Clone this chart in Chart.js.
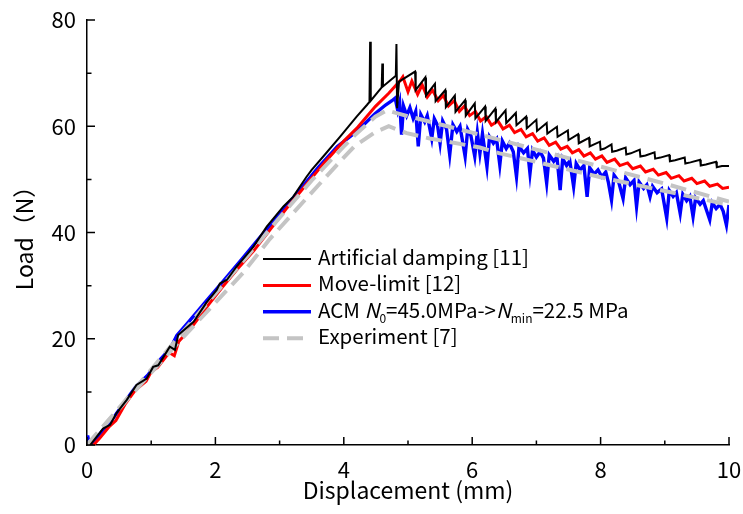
<!DOCTYPE html>
<html>
<head>
<meta charset="utf-8">
<script src="https://cdn.jsdelivr.net/npm/chart.js@4.4.1/dist/chart.umd.min.js"></script>
<style>
  html, body { margin: 0; padding: 0; background: #fff; }
</style>
</head>
<body>
<canvas id="loadChart" width="743" height="514"></canvas>
<script>
// load-displacement curves
const dampX = [0.05,0.25,0.36,0.46,0.62,0.77,0.93,1.03,1.11,1.29,1.37,1.42,1.66,1.86,2.02,2.07,2.18,2.33,2.59,2.8,3.06,3.21,3.42,3.5,3.68,3.94,4.2,4.36,4.4,4.41,4.42,4.59,4.6,4.61,4.81,4.82,4.83,4.86,
  5.11,5.12,5.27,5.28,5.42,5.43,5.58,5.59,5.73,5.74,5.89,5.9,6.04,6.05,6.2,6.21,6.36,6.37,6.52,6.53,6.68,6.69,6.84,6.85,7.0,7.01,7.16,7.17,7.32,7.33,7.49,7.5,7.65,7.66,7.82,7.83,7.99,8.0,
  8.06,8.17,8.18,8.25,8.39,8.4,8.47,8.61,8.62,8.7,8.84,8.85,8.93,9.07,9.08,9.16,9.31,9.32,9.4,9.55,9.56,9.64,9.8,9.81,9.89,10.0];
const dampY = [0,3.1,3.8,6,8.5,11.3,12.5,14.7,15,18.5,17.9,20.7,23.2,26.8,29.2,30.4,31.1,33.6,37.3,41.1,44.9,46.7,50.5,51.8,54.3,58,61.8,64,64.6,75.9,64.8,67.3,71.8,67.5,69.5,75.5,63.4,68.4,
  70.3,66.8,69.2,65.8,68.0,64.7,66.8,63.6,65.8,62.7,64.9,62.0,64.3,61.5,63.7,61.0,63.3,60.8,63.0,60.6,62.5,60.2,61.8,59.6,61.2,59.1,60.6,58.6,59.9,58.0,59.2,57.4,58.5,56.8,57.8,56.2,57.1,55.6,
  55.8,56.6,55.2,55.4,56.0,54.7,54.9,55.6,54.3,54.5,55.1,53.9,54.1,54.6,53.4,53.6,54.1,53.0,53.2,53.7,52.6,52.8,53.3,52.3,52.5,52.5];

const limitX = [0.1,0.2,0.35,0.45,0.6,0.75,0.92,1.0,1.1,1.28,1.36,1.43,1.65,1.9,2.1,2.35,2.6,2.85,3.1,3.4,3.7,4.0,4.2,4.49,4.7,4.82,4.88,4.92,
  5.0,5.06,5.15,5.22,5.3,5.38,5.47,5.55,5.63,5.72,5.8,5.88,5.96,6.05,6.13,6.22,6.3,6.4,6.48,6.58,6.66,6.76,6.84,6.94,7.02,7.12,7.2,7.3,7.38,7.48,
  7.56,7.66,7.74,7.84,7.92,8.02,8.1,8.22,8.3,8.42,8.5,8.62,8.7,8.82,8.9,9.02,9.1,9.22,9.3,9.42,9.5,9.62,9.7,9.82,9.9,10];
const limitY = [0,1.3,3.5,4.6,7.8,10.3,12,13.8,14.6,17.4,16.8,19.5,22.5,26.5,29.6,33.2,36.6,40.5,44.4,48.8,53.2,57.2,59.6,63.7,66.2,67.8,68.6,69.3,
  66.5,68.5,66,67.8,65.5,66.8,64.8,65.8,63.8,64.8,62.8,63.8,62,62.8,61,61.8,60.2,61,59.5,60.2,58.8,59.4,58,58.6,57.2,57.8,56.4,57,55.7,56.2,
  55,55.6,54.4,55,53.8,54.4,53.2,53.8,52.6,53.1,52,52.5,51.4,51.9,50.8,51.3,50.2,50.7,49.7,50.2,49.2,49.7,48.7,49.1,48.3,48.5];

const acmX = [0,0.01,0.03,0.1,0.25,0.4,0.55,0.75,0.95,1.15,1.3,1.4,1.6,1.85,2.1,2.4,2.7,3.0,3.3,3.6,3.9,4.2,4.49,4.65,4.75,
  4.8,4.84,4.87,4.9,4.93,4.98,5.03,5.08,5.12,5.16,5.2,5.26,5.3,5.37,5.41,5.46,5.5,5.54,5.6,5.65,5.7,5.76,5.81,5.89,5.93,5.98,6.04,6.08,6.12,6.16,
  6.23,6.27,6.33,6.38,6.43,6.47,6.53,6.58,6.64,6.69,6.73,6.8,6.86,6.9,6.94,7.0,7.06,7.11,7.16,7.2,7.27,7.32,7.37,7.41,7.47,7.52,7.58,7.62,7.68,7.74,
  7.79,7.83,7.9,7.96,8.02,8.08,8.12,8.17,8.21,8.28,8.35,8.39,8.46,8.52,8.56,8.6,8.67,8.72,8.77,8.81,8.88,8.95,9.03,9.07,9.13,9.18,9.24,9.28,9.34,9.39,
  9.44,9.48,9.55,9.6,9.65,9.7,9.74,9.8,9.86,9.91,9.96,10];
const acmY = [0,1.8,0.3,0.6,2.8,4.9,7.5,10.8,13.2,16.2,18.2,20.6,23.4,27,30.5,34.8,39.2,43.4,47.8,52.2,56.2,59.0,62.4,64,64.8,
  65.3,63,64.5,58.4,63.8,62,63.5,61.5,62.8,56.2,62.2,60.8,62,57.7,61.4,60.2,56.8,61,59.5,54.6,60.3,59,60,54.3,59.4,58.2,54.3,58.8,54.9,58.6,
  52.4,58,56.8,57.6,52.7,57.2,55.8,56.8,55.2,50.5,56.2,55,55.8,51.1,55.5,54.2,55.2,54,49.3,54.6,53.4,54.2,48,53.9,52.6,53.5,48.6,53,51.8,52.6,
  46.7,52.2,51,51.8,50.5,51.4,49.5,46.1,50.8,49.6,46.4,50.3,49,49.8,44.9,49.5,48.3,49,46.7,48.7,47.5,48.2,42.7,47.9,46.8,47.5,43.6,47.2,46,46.8,
  43,46.5,45.3,46,44.2,42.4,45.6,44.5,45.3,44,41.4,45.2];

// two experiment specimens, one legend entry
const expAX = [0,0.5,1,1.5,2,2.5,3,3.5,4,4.17,4.49,4.67,5,6,7,8,9,10];
const expAY = [0,7,14.2,21.4,28.5,35.6,42.8,49.8,56.2,58.3,61.8,63,61.9,58.8,55.6,52.4,49.2,45.8];
const expBX = [0,0.5,1,1.5,2,2.43,2.85,3.4,3.89,4.17,4.49,4.7,4.98,5.34,6.12,6.43,7,8,9,10];
const expBY = [0,6.8,13.6,20.3,26.8,32.4,38.8,46.2,52.7,56.3,58.9,60,58.7,57.7,56,54.9,53.3,50.4,47.8,45.2];

const xTicks = [0, 2, 4, 6, 8, 10];
const yTicks = [0, 20, 40, 60, 80];
const xMinor = [1, 3, 5, 7, 9];
const yMinor = [10, 30, 50, 70];

const FONT = '"Noto Sans CJK JP", "Noto Sans", sans-serif';

function pts(xs, ys) {
    return xs.map((x, i) => ({ x: x, y: ys[i] }));
}

// inward major / minor ticks like the original plot
const innerTicks = {
    id: 'innerTicks',
    afterDatasetsDraw(chart) {
        const { ctx, chartArea } = chart;
        const xs = chart.scales.x, ys = chart.scales.y;
        ctx.save();
        ctx.strokeStyle = '#000';
        ctx.lineWidth = 1.5;
        ctx.beginPath();
        xTicks.concat(xMinor).forEach(v => {
            const len = xTicks.includes(v) ? 8 : 4.5;
            const px = xs.getPixelForValue(v);
            ctx.moveTo(px, chartArea.bottom);
            ctx.lineTo(px, chartArea.bottom - len);
        });
        yTicks.concat(yMinor).forEach(v => {
            const len = yTicks.includes(v) ? 8 : 4.5;
            const py = ys.getPixelForValue(v);
            ctx.moveTo(chartArea.left, py);
            ctx.lineTo(chartArea.left + len, py);
        });
        ctx.stroke();
        ctx.restore();
    }
};

// legend with italic N and subscripts
const legendBox = {
    id: 'legendBox',
    afterDraw(chart) {
        const { ctx, chartArea } = chart;
        const ds = chart.data.datasets;
        const x0 = chartArea.left + 176, x1 = x0 + 48, tx = x0 + 55;
        const rows = [
            { ds: 0, parts: [{ t: 'Artificial damping [11]' }] },
            { ds: 1, parts: [{ t: 'Move-limit [12]' }] },
            { ds: 2, parts: [{ t: 'ACM ' }, { t: 'N', it: true }, { t: '0', sub: true }, { t: '=45.0MPa->' }, { t: 'N', it: true }, { t: 'min', sub: true }, { t: '=22.5 MPa' }] },
            { ds: 3, parts: [{ t: 'Experiment [7]' }] }
        ];
        ctx.save();
        ctx.textBaseline = 'middle';
        rows.forEach((row, i) => {
            const y = chartArea.top + 238 + i * 26.4;
            const d = ds[row.ds];
            ctx.strokeStyle = d.borderColor;
            ctx.lineWidth = d.borderWidth;
            ctx.setLineDash(d.borderDash || []);
            ctx.beginPath();
            ctx.moveTo(x0, y + 1);
            ctx.lineTo(x1, y + 1);
            ctx.stroke();
            ctx.setLineDash([]);
            ctx.fillStyle = '#000';
            let cx = tx;
            row.parts.forEach(p => {
                if (p.sub) {
                    ctx.font = '12px ' + FONT;
                    ctx.fillText(p.t, cx, y + 8);
                } else {
                    ctx.font = (p.it ? 'italic ' : '') + '20.5px ' + FONT;
                    ctx.fillText(p.t, cx, y - 1);
                }
                cx += ctx.measureText(p.t).width;
            });
        });
        ctx.restore();
    }
};

Chart.defaults.font.family = FONT;
Chart.defaults.font.size = 22;
Chart.defaults.color = '#000';

new Chart(document.getElementById('loadChart'), {
    type: 'line',
    data: {
        datasets: [
            {
                label: 'Artificial damping [11]',
                data: pts(dampX, dampY),
                borderColor: '#000000',
                borderWidth: 2,
                order: 0
            },
            {
                label: 'Move-limit [12]',
                data: pts(limitX, limitY),
                borderColor: '#ff0000',
                borderWidth: 3,
                order: 2
            },
            {
                label: 'ACM',
                data: pts(acmX, acmY),
                borderColor: '#0000ff',
                borderWidth: 3.4,
                order: 3
            },
            {
                label: 'Experiment [7]',
                data: pts(expAX, expAY),
                borderColor: '#c4c4c4',
                borderWidth: 4,
                borderDash: [16, 8],
                order: 1
            },
            {
                label: 'Experiment [7] b',
                data: pts(expBX, expBY),
                borderColor: '#c4c4c4',
                borderWidth: 4,
                borderDash: [16, 8],
                order: 1
            }
        ]
    },
    options: {
        responsive: false,
        animation: false,
        layout: { padding: { top: 20, right: 14, left: 0, bottom: 0 } },
        elements: {
            point: { radius: 0 },
            line: { tension: 0, borderJoinStyle: 'miter' }
        },
        plugins: {
            legend: { display: false },
            tooltip: { enabled: false }
        },
        scales: {
            x: {
                type: 'linear',
                min: 0,
                max: 10,
                afterBuildTicks: s => { s.ticks = xTicks.map(v => ({ value: v })); },
                afterFit: s => { s.height = 69; s.paddingLeft = 0; s.paddingRight = 0; },
                grid: { drawOnChartArea: false, drawTicks: false },
                border: { color: '#000', width: 1.5 },
                ticks: { padding: 11, maxRotation: 0 },
                title: { display: true, text: 'Displacement (mm)', font: { size: 23 }, padding: { top: 0, bottom: 10 } }
            },
            y: {
                min: 0,
                max: 80,
                afterBuildTicks: s => { s.ticks = yTicks.map(v => ({ value: v })); },
                afterFit: s => { s.width = 87; s.paddingTop = 0; s.paddingBottom = 0; },
                grid: { drawOnChartArea: false, drawTicks: false },
                border: { color: '#000', width: 1.5 },
                ticks: { padding: 11 },
                title: { display: true, text: 'Load（N）', font: { size: 23 }, padding: { top: 10, bottom: 0 } }
            }
        }
    },
    plugins: [innerTicks, legendBox]
});
</script>
</body>
</html>
